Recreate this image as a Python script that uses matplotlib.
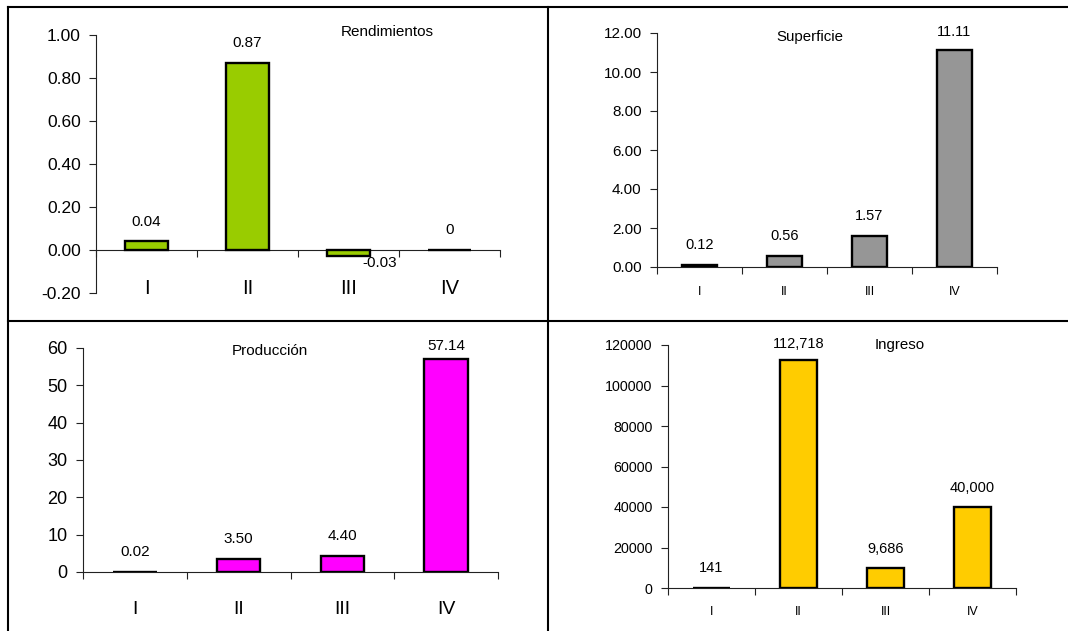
import matplotlib
matplotlib.use("Agg")
import matplotlib.pyplot as plt
from matplotlib.lines import Line2D
from matplotlib.ticker import FormatStrFormatter, FixedLocator

plt.rcParams['font.family'] = ['Liberation Sans', 'DejaVu Sans']

# ---------------- data ----------------
categories = ["I", "II", "III", "IV"]

rend_values = [0.04, 0.87, -0.03, 0.0]
rend_labels = ["0.04", "0.87", "-0.03", "0"]

sup_values = [0.12, 0.56, 1.57, 11.11]
sup_labels = ["0.12", "0.56", "1.57", "11.11"]

prod_values = [0.02, 3.50, 4.40, 57.14]
prod_labels = ["0.02", "3.50", "4.40", "57.14"]

ing_values = [141, 112718, 9686, 40000]
ing_labels = ["141", "112,718", "9,686", "40,000"]

titles = ["Rendimientos", "Superficie", "Producción", "Ingreso"]

# ---------------- figure ----------------
W, H = 1068, 631
fig = plt.figure(figsize=(W / 100, H / 100), dpi=100)


def px_axes(x0, x1, ytop, ybot):
    return fig.add_axes([x0 / W, (H - ybot) / H, (x1 - x0) / W, (ybot - ytop) / H])


def style(ax, ylim, yticks, fmt, ytick_fs, xcat_fs, xpad, zero_spine=False):
    ax.set_xlim(-0.5, 3.5)
    ax.set_ylim(*ylim)
    for s in ["top", "right"]:
        ax.spines[s].set_visible(False)
    for s in ["left", "bottom"]:
        ax.spines[s].set_linewidth(0.8)
        ax.spines[s].set_color("#222222")
    if zero_spine:
        ax.spines["bottom"].set_position(("data", 0))
    ax.yaxis.set_major_locator(FixedLocator(yticks))
    ax.yaxis.set_major_formatter(fmt)
    ax.tick_params(axis="y", direction="out", length=5, width=0.8,
                   labelsize=ytick_fs, pad=6, color="#222222")
    ax.set_xticks(range(len(categories)))
    ax.set_xticklabels(categories)
    ax.set_xticks([-0.5, 0.5, 1.5, 2.5, 3.5], minor=True)
    ax.tick_params(axis="x", which="major", length=0, labelsize=xcat_fs, pad=xpad)
    ax.tick_params(axis="x", which="minor", direction="out", length=5,
                   width=0.8, color="#222222")
    ax.patch.set_alpha(0)


def bars(ax, values, labels, color, label_fs, offsets):
    rects = ax.bar(range(len(values)), values, width=0.42, color=color,
                   edgecolor="black", linewidth=1.7, zorder=3)
    for r, v, lab, off in zip(rects, values, labels, offsets):
        cx = r.get_x() + r.get_width() / 2
        ax.annotate(lab, (cx, v), xytext=off, textcoords="offset pixels",
                    ha="center", va="center", fontsize=label_fs,
                    annotation_clip=False, zorder=4)


# Panel 1: Rendimientos
ax1 = px_axes(96, 500, 35, 293)
style(ax1, (-0.2, 1.0), [-0.2, 0, 0.2, 0.4, 0.6, 0.8, 1.0],
      FormatStrFormatter("%.2f"), 12.5, 14.5, 21, zero_spine=True)
bars(ax1, rend_values, rend_labels, "#99CC00", 11,
     [(0, 19), (0, 20), (31, -7), (0, 20)])
fig.text(387 / W, 1 - 32 / H, titles[0], ha="center", va="center", fontsize=11)

# Panel 2: Superficie
ax2 = px_axes(657, 997, 33, 267)
style(ax2, (0, 12), [0, 2, 4, 6, 8, 10, 12],
      FormatStrFormatter("%.2f"), 11, 9, 14)
bars(ax2, sup_values, sup_labels, "#969696", 10.5,
     [(0, 20), (0, 20), (0, 20), (0, 18)])
fig.text(810 / W, 1 - 37 / H, titles[1], ha="center", va="center", fontsize=10.8)

# Panel 3: Producción
ax3 = px_axes(83, 498, 348, 572)
style(ax3, (0, 60), [0, 10, 20, 30, 40, 50, 60],
      FormatStrFormatter("%d"), 13, 14, 21)
bars(ax3, prod_values, prod_labels, "#FF00FF", 11,
     [(0, 20), (0, 20), (0, 20), (0, 13)])
fig.text(270 / W, 1 - 351 / H, titles[2], ha="center", va="center", fontsize=11)

# Panel 4: Ingreso
ax4 = px_axes(668, 1016, 345, 588)
style(ax4, (0, 120000), [0, 20000, 40000, 60000, 80000, 100000, 120000],
      FormatStrFormatter("%d"), 10.3, 9, 13)
bars(ax4, ing_values, ing_labels, "#FFCC00", 10.5,
     [(0, 20), (0, 16), (0, 19), (0, 19)])
fig.text(900 / W, 1 - 345 / H, titles[3], ha="center", va="center", fontsize=10.8)

# ---------------- table grid lines ----------------
def fline(xs, ys):
    fig.add_artist(Line2D([x / W for x in xs], [1 - y / H for y in ys],
                          color="black", linewidth=1.5))

fline([8, W], [7, 7])          # top
fline([8, W], [321, 321])      # middle horizontal
fline([8, 8], [7, H])          # left
fline([548, 548], [7, H])      # middle vertical

fig.savefig("out.png", dpi=100)
